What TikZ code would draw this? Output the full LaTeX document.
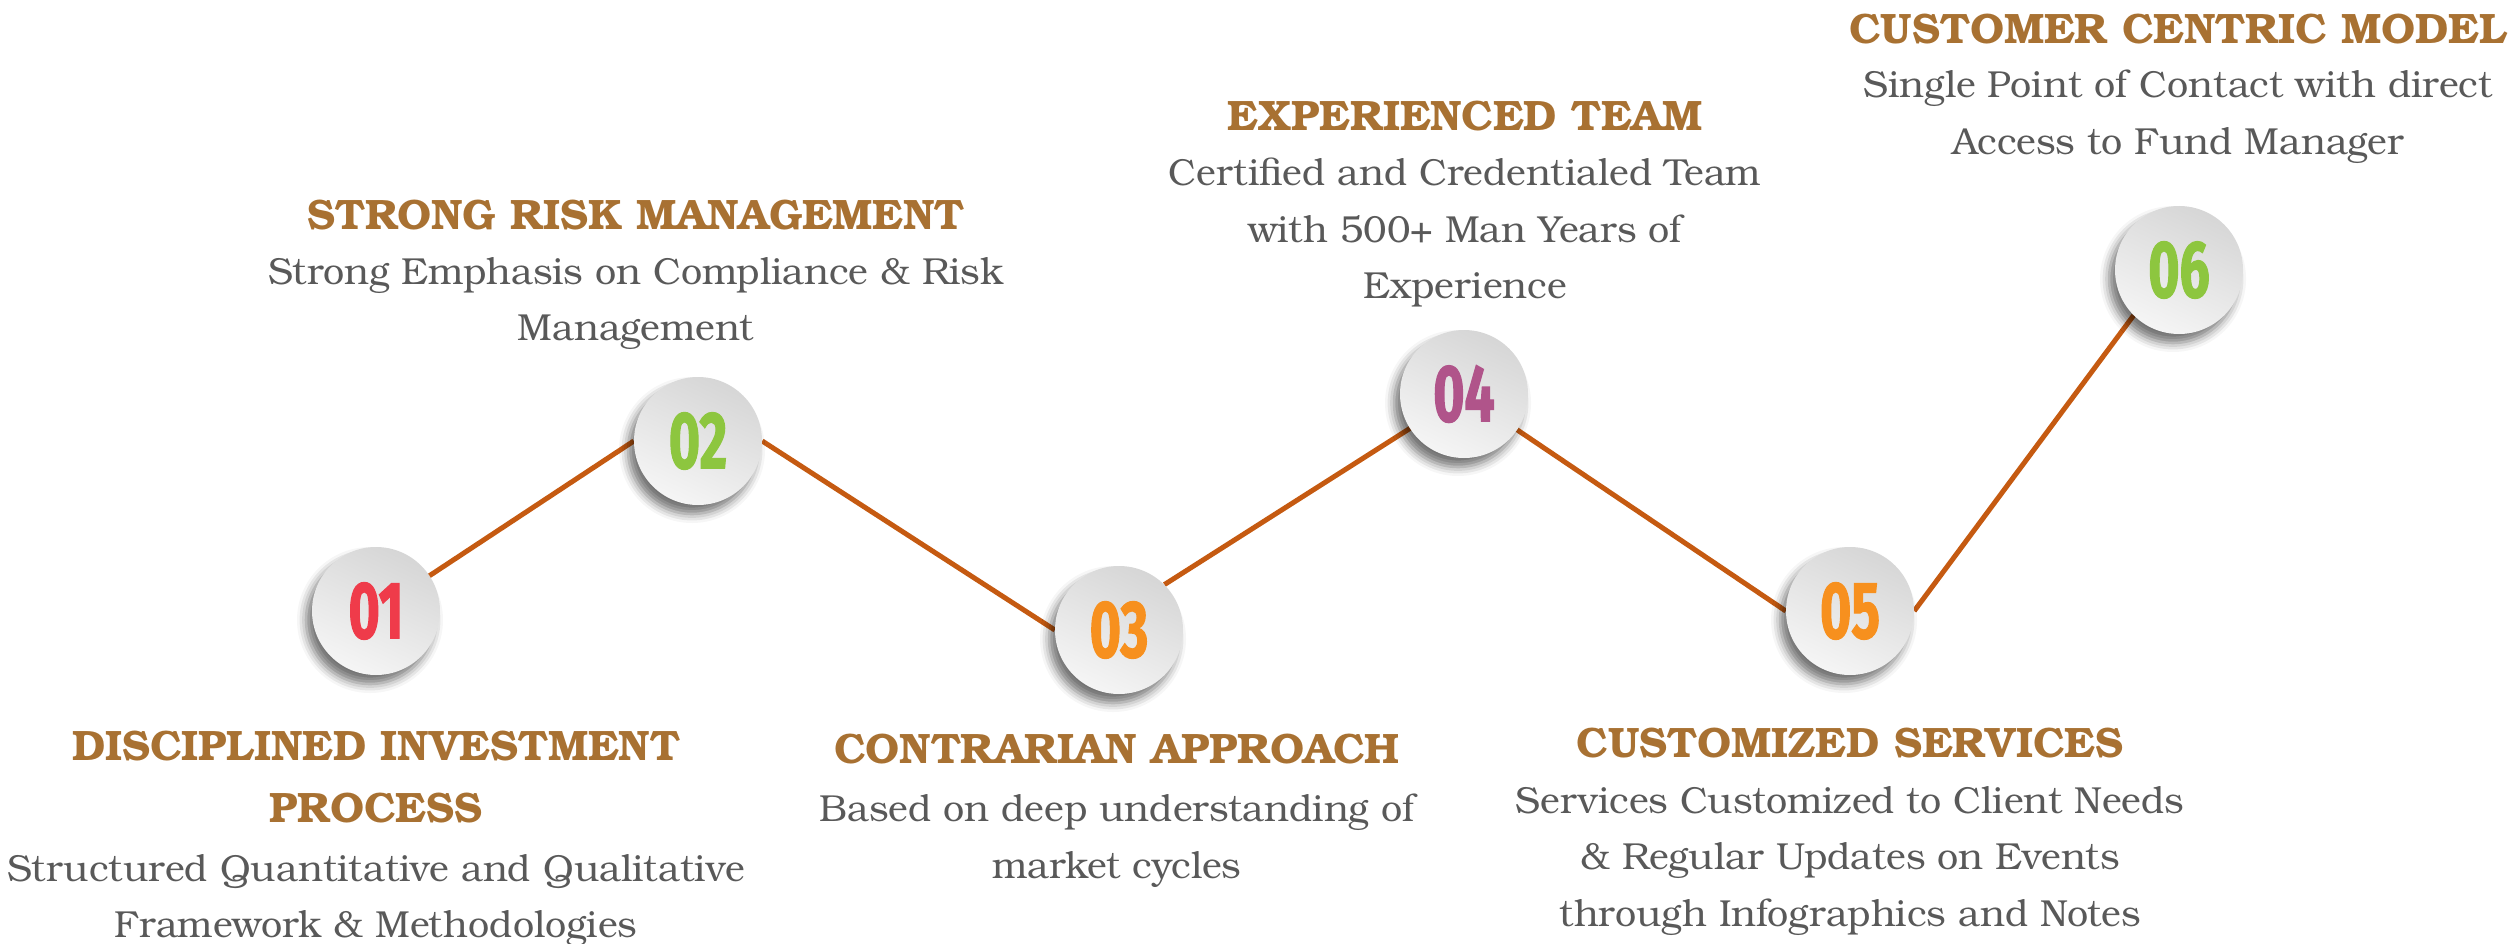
\documentclass[tikz,border=0pt]{standalone}
\usepackage{fontspec}
\setmainfont{texgyrebonum}[Extension=.otf, UprightFont=*-regular, BoldFont=*-bold]
\newfontfamily\numfont{Fira Sans}[FakeStretch=0.66, FakeBold=1.4]
\usetikzlibrary{shadows.blur}
\definecolor{titlec}{HTML}{A87132}
\definecolor{bodyc}{HTML}{595959}
\definecolor{linec}{HTML}{C55A11}
\definecolor{circtop}{HTML}{D6D6D6}
\definecolor{circbot}{HTML}{F5F5F5}
\definecolor{nred}{HTML}{EF3B4A}
\definecolor{ngreen}{HTML}{8DC63F}
\definecolor{norange}{HTML}{F7901E}
\definecolor{npurple}{HTML}{B0548A}
\pgfdeclarelayer{background}
\pgfsetlayers{background,main}
\begin{document}
\begin{tikzpicture}[x=1pt,y=-1pt,
  numc/.style={circle, minimum size=128pt, inner sep=0pt,
    top color=circtop, bottom color=circbot, shading angle=-25,
    blur shadow={shadow xshift=-6pt, shadow yshift=-9pt, shadow blur radius=9pt, shadow opacity=55},
    font=\numfont\bfseries\fontsize{81pt}{81pt}\selectfont},
  link/.style={draw=linec, line width=5pt},
  ttl/.style={font=\bfseries\fontsize{42.5pt}{62pt}\selectfont, text=titlec, align=center, inner sep=0pt, anchor=north},
  dsc/.style={font=\fontsize{37.6pt}{56.5pt}\selectfont, text=bodyc, align=center, inner sep=0pt, anchor=north}]
\useasboundingbox (0,0) rectangle (2514,944);

\node[numc, text=nred]    (c1) at (376,611) {01};
\node[numc, text=ngreen]  (c2) at (698,441) {02};
\node[numc, text=norange] (c3) at (1119,630) {03};
\node[numc, text=npurple] (c4) at (1464,394) {04};
\node[numc, text=norange] (c5) at (1850,611) {05};
\node[numc, text=ngreen]  (c6) at (2179,270) {06};

\begin{pgfonlayer}{background}
\draw[link] (c1.center) -- (c2.west);
\draw[link] (c2.east) -- (c3.west);
\draw[link] (c3.45) -- (c4.center);
\draw[link] (c4.center) -- (c5.west);
\draw[link] (c5.east) -- (c6.225);
\end{pgfonlayer}

\node[ttl] (t1) at (376,731) {DISCIPLINED INVESTMENT\\PROCESS};
\node[dsc] (d1) at (376,854) {Structured Quantitative and Qualitative\\Framework \& Methodologies};
\node[ttl] (t2) at (636,200) {STRONG RISK MANAGEMENT};
\node[dsc] (d2) at (636,257) {Strong Emphasis on Compliance \& Risk\\Management};
\node[ttl] (t3) at (1117,734) {CONTRARIAN APPROACH};
\node[dsc] (d3) at (1117,794) {Based on deep understanding of\\market cycles};
\node[ttl] (t4) at (1465,101) {EXPERIENCED TEAM};
\node[dsc] (d4) at (1465,158) {Certified and Credentialed Team\\with 500+ Man Years of\\Experience};
\node[ttl] (t5) at (1850,728) {CUSTOMIZED SERVICES};
\node[dsc] (d5) at (1850,786) {Services Customized to Client Needs\\\& Regular Updates on Events\\through Infographics and Notes};
\node[ttl] (t6) at (2178,14) {CUSTOMER CENTRIC MODEL};
\node[dsc] (d6) at (2178,70) {Single Point of Contact with direct\\Access to Fund Manager};
\end{tikzpicture}
\end{document}
